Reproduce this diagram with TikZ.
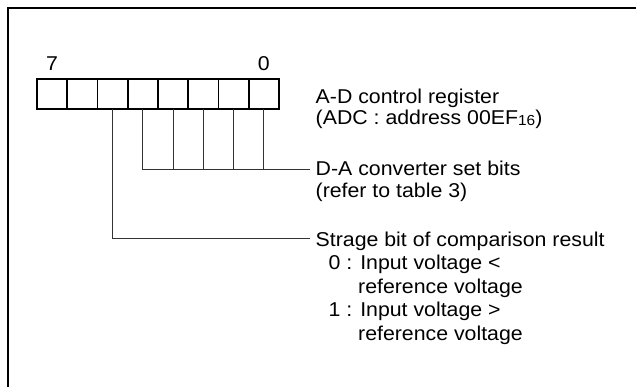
\documentclass[tikz,border=0pt]{standalone}
\usepackage{fontspec}
\setmainfont{Liberation Sans}[FakeStretch=1.065]
\begin{document}
\begin{tikzpicture}[x=1pt,y=-1pt,
  cell/.style={draw,line width=1.8pt,minimum width=30.25pt,minimum height=30pt,inner sep=0pt,outer sep=0pt},
  lbl/.style={inner sep=0pt,anchor=base west,font=\fontsize{20}{21}\selectfont},
  num/.style={inner sep=0pt,anchor=base,font=\fontsize{20}{21}\selectfont},
  conn/.style={line width=1pt,black!80},
  frame/.style={line width=2pt,line cap=rect}]
\useasboundingbox (0,0) rectangle (636,387);
\draw[frame] (8,387) -- (8,8.3) -- (636,8.3);
% register cells
\foreach \i/\b in {0/7,1/6,2/5,3/4,4/3,5/2,6/1,7/0}{
  \node[cell] (b\b) at ({37+30.25*(\i+0.5)},94) {};
}
\node[num] (n7) at (52.1,71) {7};
\node[num] (n0) at (263.9,71) {0};
% texts
\node[lbl] (t1) at (315.5,104) {A-D control register};
\node[lbl] (t2) at (315.5,125) {(ADC : address 00EF\raisebox{-0.5pt}{\fontsize{14.5}{14.5}\selectfont 16})};
\node[lbl] (t3) at (315.5,176) {D-A converter set bits};
\node[lbl] (t4) at (315.5,197) {(refer to table 3)};
\node[lbl] (t5) at (315.5,246) {Strage bit of comparison result};
\node[lbl] (t6) at (328.5,269.5) {0 : Input voltage <};
\node[lbl] (t7) at (358,293) {reference voltage};
\node[lbl] (t8) at (328.5,316.5) {1 : Input voltage >};
\node[lbl] (t9) at (358,340) {reference voltage};
% connectors
\coordinate (daend) at (310,169.5);
\coordinate (stend) at (310,238.5);
\draw[conn] (b5.south) |- (stend);
\draw[conn] (b4.south) |- (daend);
\foreach \b in {3,2,1,0}{
  \draw[conn] (b\b.south) -- (b\b.south |- daend);
}
\end{tikzpicture}
\end{document}
